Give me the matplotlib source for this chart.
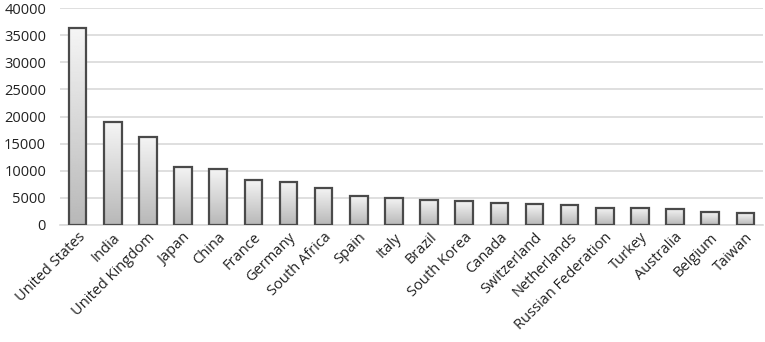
# bar chart of counts per country, grey gradient bars

import matplotlib
matplotlib.use("Agg")
import matplotlib.pyplot as plt
import numpy as np

countries = ["United States", "India", "United Kingdom", "Japan", "China",
             "France", "Germany", "South Africa", "Spain", "Italy", "Brazil",
             "South Korea", "Canada", "Switzerland", "Netherlands",
             "Russian Federation", "Turkey", "Australia", "Belgium", "Taiwan"]
values = [36400, 18900, 16250, 10700, 10350, 8350, 8000, 6880, 5350, 5040,
          4680, 4370, 4060, 3870, 3690, 3190, 3190, 2960, 2340, 2210]
yticks = [0, 5000, 10000, 15000, 20000, 25000, 30000, 35000, 40000]

plt.rcParams['font.family'] = ['Open Sans', 'DejaVu Sans']

fig = plt.figure(figsize=(7.65, 3.42), dpi=100)
ax = fig.add_axes([60/765, 1-225/342, 703/765, 217/342])

ind = np.arange(len(countries))
bars = ax.bar(ind, values, 0.5, color='none', edgecolor='#4a4a4a',
              linewidth=1.6, zorder=3)

# vertical gradient: light at top, grey at bottom
grad = np.linspace(0.72, 0.96, 256).reshape(-1, 1)
for rect in bars:
    x0 = rect.get_x()
    w = rect.get_width()
    h = rect.get_height()
    im = ax.imshow(grad, cmap='gray', vmin=0, vmax=1, aspect='auto',
                   extent=(x0, x0 + w, 0, h), origin='lower', zorder=2)
    im.set_clip_path(rect)

ax.set_xlim(-0.5, len(countries) - 0.5)
ax.set_ylim(0, 40000)
ax.set_yticks(yticks)
ax.set_yticklabels([str(v) for v in yticks])
ax.yaxis.grid(True, color='#d9d9d9', linewidth=1.2, zorder=0)
ax.set_axisbelow(True)
for s in ['top', 'right', 'left']:
    ax.spines[s].set_visible(False)
ax.spines['bottom'].set_color('#d9d9d9')
ax.spines['bottom'].set_linewidth(1.2)
ax.tick_params(length=0, labelsize=10.5, colors='#222222')
ax.tick_params(axis='y', pad=10)
ax.set_xticks(ind)
ax.set_xticklabels(countries, rotation=45, ha='right', rotation_mode='anchor')

fig.savefig("out.png", dpi=100)
